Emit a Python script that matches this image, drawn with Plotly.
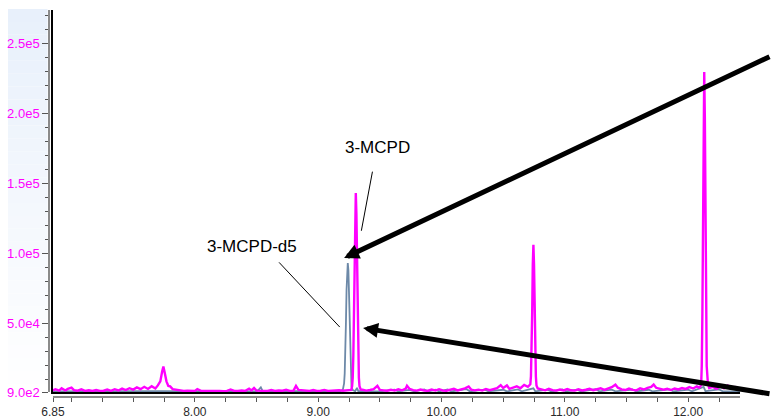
import plotly.graph_objects as go

# ---------------- data ----------------
# Magenta trace (quantifier ion of 3-MCPD derivative)
magenta_time = [
    6.85, 6.87, 6.90, 6.92, 6.95, 6.97, 7.00, 7.02, 7.05, 7.08, 7.11, 7.14, 7.17, 7.20,
    7.23, 7.26, 7.29, 7.32, 7.35, 7.38, 7.41, 7.44, 7.47, 7.50, 7.53, 7.56, 7.59, 7.62,
    7.65, 7.68, 7.70, 7.72, 7.735, 7.745, 7.755, 7.77, 7.785, 7.80, 7.82, 7.85, 7.88,
    7.91, 7.94, 7.97, 8.00, 8.02, 8.05, 8.08, 8.11, 8.14, 8.17, 8.20, 8.23, 8.26, 8.29,
    8.32, 8.35, 8.38, 8.41, 8.44, 8.46, 8.48, 8.50, 8.53, 8.56, 8.59, 8.62, 8.65, 8.68,
    8.71, 8.74, 8.77, 8.80, 8.82, 8.84, 8.87, 8.90, 8.93, 8.96, 8.99, 9.02, 9.05, 9.08,
    9.11, 9.14, 9.17, 9.20, 9.23, 9.26, 9.268, 9.275, 9.28, 9.285, 9.29, 9.295, 9.30,
    9.305, 9.31, 9.315, 9.32, 9.325, 9.33, 9.335, 9.345, 9.36, 9.39, 9.42, 9.45, 9.48,
    9.50, 9.53, 9.56, 9.59, 9.62, 9.65, 9.68, 9.71, 9.72, 9.74, 9.77, 9.80, 9.83, 9.86,
    9.89, 9.92, 9.95, 9.98, 10.01, 10.04, 10.07, 10.10, 10.13, 10.16, 10.19, 10.22,
    10.24, 10.27, 10.30, 10.33, 10.36, 10.39, 10.42, 10.45, 10.48, 10.50, 10.53, 10.55,
    10.58, 10.61, 10.64, 10.67, 10.70, 10.72, 10.725, 10.73, 10.735, 10.74, 10.745,
    10.75, 10.755, 10.76, 10.765, 10.77, 10.78, 10.81, 10.84, 10.87, 10.90, 10.93,
    10.96, 10.99, 11.02, 11.05, 11.08, 11.11, 11.14, 11.17, 11.20, 11.23, 11.26, 11.29,
    11.32, 11.35, 11.38, 11.41, 11.43, 11.46, 11.49, 11.52, 11.55, 11.58, 11.61, 11.64,
    11.67, 11.70, 11.72, 11.74, 11.77, 11.80, 11.83, 11.86, 11.89, 11.92, 11.95, 11.98,
    12.01, 12.04, 12.07, 12.09, 12.105, 12.11, 12.115, 12.12, 12.125, 12.13, 12.135,
    12.14, 12.145, 12.15, 12.16, 12.17, 12.20, 12.23, 12.26, 12.29, 12.32, 12.35, 12.38,
    12.41, 12.42,
]
magenta_signal = [
    2100, 2900, 1900, 3600, 2000, 3100, 4000, 2200, 1800, 2800, 1700, 2100, 1600, 2300,
    1700, 1800, 2600, 1700, 2900, 2000, 3300, 2300, 3600, 2600, 4200, 2900, 4600, 3100,
    5000, 3400, 5600, 8500, 15500, 19100, 15000, 8500, 5200, 4900, 3000, 2500, 2000,
    1700, 1800, 1600, 1700, 2900, 1700, 1600, 1700, 1600, 1900, 1600, 1500, 1700, 2600,
    1700, 1600, 2000, 1700, 3200, 2000, 3800, 1900, 1700, 1800, 1600, 2300, 1700, 2000,
    1800, 2500, 1700, 1900, 5200, 2400, 2300, 1800, 1700, 2300, 1700, 1800, 2400, 1700,
    2000, 1800, 2100, 1800, 1900, 2100, 2400, 5000, 11000, 27000, 55000, 94000, 128000,
    143000, 128000, 94000, 55000, 27000, 11000, 5000, 2600, 2500, 1900, 2300, 2900, 5300,
    2400, 2100, 1800, 2500, 1900, 2800, 2100, 3400, 5300, 3200, 2200, 1900, 2700, 2000,
    1800, 2600, 1900, 2900, 2000, 1800, 2300, 3200, 2000, 2600, 3500, 4800,
    2600, 2100, 2600, 1900, 3100, 2200, 2900, 3600, 5800, 3800, 5600, 3200,
    4100, 5000, 3600, 6000, 4600, 6400, 12000, 28000, 57000, 92000, 106000,
    92000, 57000, 28000, 12000, 5500, 3400, 2800, 2100, 3200, 2200, 1900,
    2700, 2000, 3000, 2100, 1900, 2800, 2000, 2500, 3200, 2200, 2900, 3600,
    2400, 3200, 4300, 6100, 4000, 2800, 2300, 3300, 2400, 2100, 3500, 2700,
    3900, 4500, 6200, 3900, 3100, 2500, 3200, 2300, 3400, 2700, 3700, 3100,
    4400, 3400, 4900, 4000, 5800, 19500, 57000, 124000, 197000, 229500, 197000,
    124000, 57000, 19500, 6800, 3800, 4600, 3200, 5100, 3500, 5600, 3700, 4400,
    3300, 3600,
]

# Slate-blue trace (3-MCPD-d5 internal standard)
blue_time = [
    6.85, 7.00, 7.40, 7.75, 8.00, 8.50, 8.52, 8.535, 8.55, 8.80, 9.10, 9.18, 9.20, 9.21,
    9.215, 9.22, 9.225, 9.23, 9.235, 9.24, 9.245, 9.25, 9.255, 9.26, 9.265, 9.27, 9.28,
    9.30, 9.315, 9.325, 9.40, 9.50, 9.62, 9.65, 9.74, 9.78, 9.86, 9.89, 9.95, 9.98,
    10.05, 10.08, 10.20, 10.23, 10.35, 10.38, 10.50, 10.53, 10.62, 10.65, 10.745, 10.76,
    10.86, 10.89, 10.98, 11.01, 11.10, 11.13, 11.25, 11.28, 11.38, 11.41, 11.55, 11.58,
    11.68, 11.71, 11.85, 11.88, 12.00, 12.03, 12.125, 12.14, 12.25, 12.28, 12.42,
]
blue_signal = [
    1300, 1400, 1300, 1500, 1300, 1400, 2800, 4200, 1500, 1300, 1400, 1500, 2500, 7000,
    14000, 28000, 50000, 74000, 89000, 93000, 88000, 72000, 48000, 26000, 12000, 5000, 2200,
    1500, 3800, 1600, 1400, 1300, 2600, 1400, 2400, 1400, 2800, 1300, 2500, 1400,
    2700, 1300, 3000, 1400, 2600, 1400, 2500, 1300, 2800, 1400, 3500, 1400,
    2600, 1300, 2700, 1400, 2500, 1300, 2900, 1400, 2600, 1400, 2700, 1300,
    2500, 1400, 2800, 1300, 2600, 1400, 4500, 1500, 2700, 1400, 1300,
]

# Axis definitions
x_range = [6.85, 12.42]
y_range = [900, 273800]
x_tick_vals = [6.85, 8, 9, 10, 11, 12]
x_tick_text = ["6.85", "8.00", "9.00", "10.00", "11.00", "12.00"]
x_minor_vals = [7.0, 7.25, 7.5, 7.75, 8.25, 8.5, 8.75, 9.25, 9.5, 9.75, 10.25, 10.5,
                10.75, 11.25, 11.5, 11.75, 12.25]
y_tick_vals = [900, 50000, 100000, 150000, 200000, 250000]
y_tick_text = ["9.0e2", "5.0e4", "1.0e5", "1.5e5", "2.0e5", "2.5e5"]
y_minor_vals = [10000, 20000, 30000, 40000, 60000, 70000, 80000, 90000, 110000, 120000,
                130000, 140000, 160000, 170000, 180000, 190000, 210000, 220000, 230000,
                240000, 260000, 270000]

# Annotation labels and anchor points (data coordinates)
label_names = ["3-MCPD", "3-MCPD-d5"]
label_pos = [(9.482, 175900), (8.460, 104500)]
leader_lines = [((9.440, 158300), (9.350, 116100)), ((8.683, 93500), (9.175, 47300))]
arrow_tips = [(9.210, 96600), (9.364, 46600)]
arrow_tails_px = [(456, -202), (437, 66)]

# ---------------- figure ----------------
MAGENTA = "#ff00ff"
BLUE = "#6d89a8"
FONT = "Liberation Sans, Arial, sans-serif"

fig = go.Figure()
fig.add_trace(go.Scatter(x=blue_time, y=blue_signal, mode="lines",
                         line=dict(color=BLUE, width=1.8), showlegend=False,
                         hoverinfo="skip", cliponaxis=True))
fig.add_trace(go.Scatter(x=magenta_time, y=magenta_signal, mode="lines",
                         line=dict(color=MAGENTA, width=2.4), showlegend=False,
                         hoverinfo="skip", cliponaxis=True))
# carrier trace for the offset tick axes
fig.add_trace(go.Scatter(x=[], y=[], xaxis="x2", yaxis="y2", showlegend=False))

W, H = 771, 419
ML, MR, MT, MB = 49, 31, 10, 22
pw = W - ML - MR
ph = H - MT - MB
x_dom0 = 4 / pw
y_dom0 = 5 / ph

fig.update_layout(
    width=W, height=H,
    margin=dict(l=ML, r=MR, t=MT, b=MB, pad=0, autoexpand=False),
    paper_bgcolor="white", plot_bgcolor="white",
    font=dict(family=FONT, size=12, color="#222"),
    xaxis=dict(domain=[x_dom0, 1], range=x_range, showgrid=False, zeroline=False,
               showline=True, linecolor="black", linewidth=1.5, showticklabels=False,
               ticks="", anchor="y", automargin=False),
    yaxis=dict(domain=[y_dom0, 1], range=y_range, showgrid=False, zeroline=False,
               showline=True, linecolor="black", linewidth=1.5, showticklabels=False,
               ticks="", anchor="x", automargin=False),
    xaxis2=dict(overlaying="x", anchor="free", position=0, side="bottom",
                range=x_range, showgrid=False, zeroline=False, showline=True,
                linecolor="#8a8a8a", linewidth=1.5, ticks="outside", ticklen=4,
                tickwidth=1.2, tickcolor="#555", tickvals=x_tick_vals,
                ticktext=x_tick_text, tickfont=dict(size=12, color="#2a2a2a"),
                automargin=False,
                minor=dict(tickvals=x_minor_vals, ticks="outside", ticklen=4,
                           tickwidth=1.2, tickcolor="#555", showgrid=False)),
    yaxis2=dict(overlaying="y", anchor="free", position=0, side="left",
                range=y_range, showgrid=False, zeroline=False, showline=True,
                linecolor="#8a8a8a", linewidth=1.5, ticks="outside", ticklen=6,
                tickwidth=1.2, tickcolor="#555", tickvals=y_tick_vals,
                ticktext=y_tick_text, tickfont=dict(size=13, color=MAGENTA),
                automargin=False,
                minor=dict(tickvals=y_minor_vals, ticks="outside", ticklen=3,
                           tickwidth=1.2, tickcolor="#555", showgrid=False)),
)

# light gradient panel behind the intensity labels
shapes = []
n_steps = 30
top_c = (232, 240, 251)
for i in range(n_steps):
    f = i / (n_steps - 1)
    c = tuple(int(round(top_c[k] + (255 - top_c[k]) * f)) for k in range(3))
    y1 = 1.0 + 1 / ph - i * (ph + 1) / ph / n_steps
    y0 = y1 - (ph + 1) / ph / n_steps
    shapes.append(dict(type="rect", xref="paper", yref="paper",
                       x0=-41 / pw, x1=-1.5 / pw, y0=max(y0, y_dom0), y1=y1,
                       fillcolor="rgb(%d,%d,%d)" % c, line=dict(width=0), layer="below"))
for (p0, p1) in leader_lines:
    shapes.append(dict(type="line", xref="x", yref="y", x0=p0[0], y0=p0[1],
                       x1=p1[0], y1=p1[1], line=dict(color="black", width=1)))
fig.update_layout(shapes=shapes)

annotations = []
for name, (lx, ly) in zip(label_names, label_pos):
    annotations.append(dict(x=lx, y=ly, xref="x", yref="y", text=name, showarrow=False,
                            font=dict(family=FONT, size=17, color="black")))
for (tx, ty), (ax, ay) in zip(arrow_tips, arrow_tails_px):
    annotations.append(dict(x=tx, y=ty, xref="x", yref="y", text="", showarrow=True,
                            ax=ax, ay=ay, axref="pixel", ayref="pixel",
                            arrowhead=2, arrowsize=0.6, arrowwidth=5,
                            arrowcolor="black"))
fig.update_layout(annotations=annotations)

fig.write_html("out.html", config={"displayModeBar": False},
               post_script="document.body.style.margin='0';"
                           "document.body.style.overflow='hidden';")
